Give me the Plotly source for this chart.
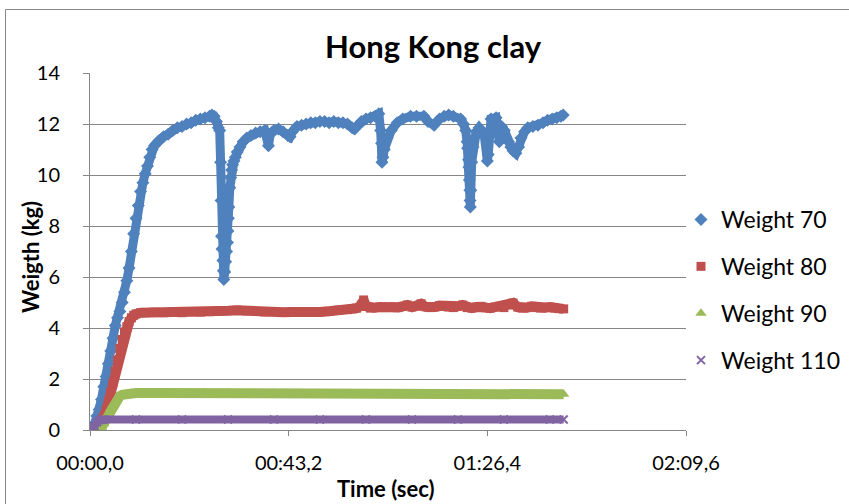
import plotly.graph_objects as go

# ---- Measurements (time in seconds, weight in kg) ----
t70 = [0.0, 0.5, 1.0, 1.5, 2.0, 2.5, 3.0, 3.5, 4.0, 4.5, 5.0, 5.5, 6.0, 6.5, 7.0, 7.5,
       8.0, 8.5, 9.0, 9.5, 10.0, 10.5, 11.0, 11.5, 12.0, 12.5, 13.0, 13.5, 14.0, 14.5,
       15, 16, 17, 18, 19, 20, 21, 22, 23, 24, 25, 26, 26.5, 27, 27.5, 27.9, 28.2,
       28.4, 28.5, 28.6, 28.7, 28.9, 29.0, 29.1, 29.3, 29.5, 29.7, 29.9, 30.0, 30.1,
       30.2, 30.4, 30.6, 30.8, 31.0, 31.3, 31.6, 32.0, 32.6, 33.3, 34.1, 35, 36, 37,
       38, 38.8, 39.2, 40, 41, 42, 43, 43.5, 44, 45, 46, 47, 48, 49, 50, 51, 52, 53,
       54, 55, 56, 57, 57.5, 58, 59, 60, 61, 62, 62.8, 63.2, 63.4, 63.5, 63.7, 64.0,
       64.6, 65.5, 66.8, 68, 69.7, 71, 72.6, 73.5, 74.8, 76, 77, 78, 79, 80.6, 81.2,
       81.7, 82.0, 82.1, 82.3, 82.4, 82.5, 82.6, 82.65, 82.7, 82.8, 83.0, 83.3, 83.5,
       84.0, 84.6, 85.2, 85.7, 86.4, 86.6, 87.2, 88.3, 89.0, 89.5, 90.1, 91.0, 91.5,
       92.0, 92.6, 93.2, 93.7, 94.5, 95.2, 96.3, 97.4, 98.5, 99.5, 100.5, 101.5,
       102.4, 102.9]
w70 = [0.0, 0.1, 0.25, 0.55, 0.8, 1.2, 1.7, 2.1, 2.6, 3.1, 3.6, 4.1, 4.4, 4.65, 5.0, 5.4,
       5.85, 6.35, 7.0, 7.7, 8.3, 8.8, 9.35, 9.7, 10.05, 10.35, 10.7, 11.0, 11.15, 11.25,
       11.35, 11.5, 11.6, 11.75, 11.85, 11.9, 12.0, 12.05, 12.15, 12.2, 12.25, 12.3,
       12.35, 12.3, 12.1, 11.85, 11.75,
       10.5, 9.0, 7.6, 7.1, 6.65, 6.25, 5.9, 6.2, 6.6, 7.0, 7.35, 7.8, 8.3,
       8.75, 9.5, 9.9, 10.2, 10.4, 10.55, 10.7, 10.9, 11.1, 11.3, 11.45, 11.55, 11.65, 11.7,
       11.75, 11.15, 11.6, 11.75, 11.8, 11.7, 11.55, 11.5, 11.7, 11.9, 11.95, 12.0, 12.05,
       12.05, 12.1, 12.1, 12.05, 12.1,
       12.05, 12.05, 12.0, 11.85, 11.8, 11.9, 12.1, 12.2, 12.25, 12.3, 12.4, 11.75, 11.25,
       10.5, 10.7, 11.0,
       11.45, 11.75, 12.05, 12.2, 12.3, 12.3, 12.3, 12.1, 11.95, 12.2, 12.3, 12.35, 12.3,
       12.2, 12.0,
       11.75, 11.3, 11.05, 10.6, 10.3, 9.8, 9.4, 9.0, 8.75, 9.4, 10.5, 11.1, 11.45,
       11.7, 11.85, 11.75, 11.6, 10.55, 10.8, 12.2, 12.25, 11.3, 11.9, 11.75, 11.3, 11.1,
       10.95, 10.85, 11.1, 11.45, 11.7, 11.85, 11.9, 11.95, 12.05, 12.15, 12.2, 12.25,
       12.3, 12.35]

t80 = [0.0, 1.0, 2.0, 3.0, 3.5, 4.0, 4.5, 5.0, 5.5, 6.0, 6.5, 7.0, 7.5, 8.0, 8.5, 9.0,
       9.5, 10, 11, 12, 14, 16, 18, 20, 22, 24, 26, 28, 30, 32, 34, 36, 38, 40, 42, 44,
       46, 48, 50, 52, 54, 56, 57, 58, 59, 59.5, 60, 61, 62, 63, 64, 65, 66, 67, 68, 69,
       70, 71, 72, 73, 74, 75, 76, 77, 78, 79, 80, 81, 82, 83, 84, 85, 86, 87, 88, 89,
       90, 91, 92, 93, 94, 95, 96, 97, 98, 99, 100, 101, 102, 103]
w80 = [0.0, 0.0, 0.15, 0.5, 0.75, 1.1, 1.45, 1.85, 2.3, 2.75, 3.2, 3.55, 3.85, 4.05, 4.25, 4.4,
       4.5, 4.55, 4.6, 4.6, 4.62, 4.6, 4.62, 4.6, 4.63, 4.62, 4.64, 4.66, 4.68, 4.7, 4.67,
       4.65, 4.63, 4.64, 4.62, 4.63, 4.61, 4.62, 4.63, 4.66, 4.7, 4.72, 4.75, 4.78, 4.9,
       5.1, 4.85, 4.78, 4.8, 4.82, 4.8, 4.82, 4.83, 4.8, 4.85, 4.9, 4.82, 4.85, 4.95, 4.83,
       4.8, 4.82, 4.88, 4.85, 4.82, 4.8, 4.85, 4.9, 4.8, 4.78, 4.82, 4.85, 4.8, 4.78, 4.82,
       4.85, 4.8, 4.9, 4.98, 4.82, 4.78, 4.8, 4.85, 4.8, 4.78, 4.8, 4.82, 4.78, 4.76, 4.75]

t90 = [0.0, 1.0, 2.0, 2.5, 3.0, 3.5, 4.0, 4.5, 5.0, 5.5, 6.0, 6.5, 7.0, 8.0, 9.0, 10,
       15, 20, 25, 30, 35, 40, 45, 50, 55, 60, 65, 70, 75, 80, 85, 90, 95, 100, 103]
w90 = [0.0, 0.0, 0.02, 0.1, 0.25, 0.45, 0.65, 0.85, 1.0, 1.15, 1.25, 1.33, 1.38, 1.42, 1.44,
       1.45, 1.45, 1.45, 1.46, 1.45, 1.44, 1.44, 1.43, 1.43, 1.42, 1.43, 1.43, 1.42, 1.42,
       1.42, 1.41, 1.41, 1.41, 1.40, 1.40]

t110 = [0.0, 0.5, 1.0, 1.5, 2.0, 2.5, 3.0, 10, 20, 30, 40, 50, 60, 70, 80, 90, 100, 103]
w110 = [0.0, 0.05, 0.15, 0.3, 0.38, 0.4, 0.41, 0.41, 0.41, 0.41, 0.41, 0.41, 0.41, 0.41,
        0.41, 0.41, 0.41, 0.41]

x_tickvals = [0, 43.2, 86.4, 129.6]
x_ticktext = ["00:00,0", "00:43,2", "01:26,4", "02:09,6"]

series = [
    ("Weight 70", t70, w70, "#4F81BD", "diamond", 10, 9),
    ("Weight 80", t80, w80, "#C0504D", "square", 9, 10),
    ("Weight 90", t90, w90, "#9BBB59", "triangle-up", 10, 10),
    ("Weight 110", t110, w110, "#8064A2", "x-thin-open", 8, 8),
]

FONT = "Lato"
fig = go.Figure()
for name, t, w, color, symbol, msize, lwidth in series:
    # dense logger trace rendered as a thick band under the markers
    fig.add_trace(go.Scatter(x=t, y=w, mode="lines", line=dict(color=color, width=lwidth),
                             showlegend=False, hoverinfo="skip", legendgroup=name))
    marker = dict(color=color, symbol=symbol, size=msize)
    if symbol == "x-thin-open":
        marker["line"] = dict(color=color, width=2)
    fig.add_trace(go.Scatter(x=t, y=w, mode="markers", name=name, marker=marker,
                             legendgroup=name))

W, H = 849, 504
L, R, T, B = 90, 163, 73, 74
pw, ph = W - L - R, H - T - B

def px(x):
    return (x - L) / pw

def py(y):
    return (H - B - y) / ph

grid = "#868686"
fig.update_layout(
    width=W, height=H,
    margin=dict(l=L, r=R, t=T, b=B, autoexpand=False),
    paper_bgcolor="white", plot_bgcolor="white",
    font=dict(family=FONT, color="black"),
    showlegend=True,
    legend=dict(x=px(681), y=py(290), xanchor="left", yanchor="middle",
                font=dict(size=23, family=FONT), tracegroupgap=14,
                bgcolor="rgba(0,0,0,0)", itemwidth=30),
    xaxis=dict(range=[0, 129.6], tickvals=x_tickvals, ticktext=x_ticktext,
               showgrid=False, zeroline=False, showline=True, linecolor=grid,
               linewidth=1, ticks="outside", ticklen=5, tickcolor=grid,
               tickfont=dict(size=20, family=FONT), ticklabelstandoff=10),
    yaxis=dict(range=[0, 14], dtick=2, showgrid=True, gridcolor=grid, gridwidth=1,
               zeroline=False, showline=True, linecolor=grid, linewidth=1,
               ticks="outside", ticklen=6, tickcolor=grid,
               tickfont=dict(size=20, family=FONT), ticklabelstandoff=19),
    shapes=[dict(type="rect", xref="paper", yref="paper",
                 x0=px(5.5), x1=px(900), y0=py(560), y1=py(9.5),
                 line=dict(color=grid, width=1), fillcolor="rgba(0,0,0,0)",
                 layer="below")],
    annotations=[
        dict(text="<b>Hong Kong clay</b>", xref="paper", yref="paper",
             x=px(433), y=py(46), showarrow=False, xanchor="center", yanchor="middle",
             font=dict(size=31, family=FONT)),
        dict(text="<b>Time (sec)</b>", xref="paper", yref="paper",
             x=px(386), y=py(488), showarrow=False, xanchor="center", yanchor="middle",
             font=dict(size=22, family=FONT)),
        dict(text="<b>Weigth (kg)</b>", xref="paper", yref="paper", textangle=-90,
             x=px(30), y=py(257), showarrow=False, xanchor="center", yanchor="middle",
             font=dict(size=22, family=FONT)),
    ],
)

fig.write_html("out.html")
